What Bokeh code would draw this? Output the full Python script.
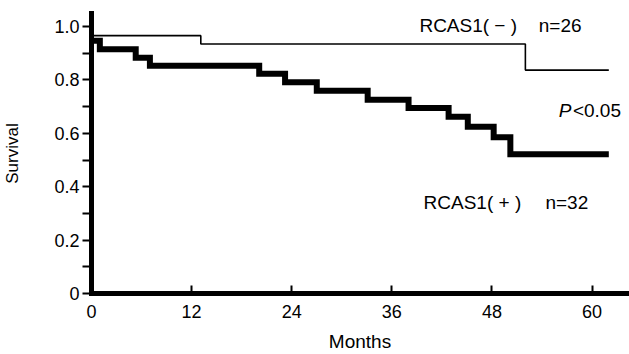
from bokeh.plotting import figure
from bokeh.models import FixedTicker, Label, Range1d
from bokeh.embed import file_html
from bokeh.resources import INLINE

# Kaplan-Meier step data (months, survival)
neg_months = [0, 13.1, 52.0, 62.0]
neg_surv = [0.966, 0.935, 0.837, 0.837]

pos_months = [0, 1.0, 5.3, 7.0, 20.1, 23.2, 27.0, 33.1, 38.0, 42.8, 45.1, 48.2, 50.2, 62.0]
pos_surv = [0.947, 0.915, 0.883, 0.853, 0.823, 0.791, 0.760, 0.726, 0.695, 0.662, 0.625, 0.585, 0.522, 0.522]

x_ticks = [0, 12, 24, 36, 48, 60]
y_ticks = [0, 0.2, 0.4, 0.6, 0.8, 1.0]
y_minor = [0.1, 0.3, 0.5, 0.7, 0.9]
y_labels = ["0", "0.2", "0.4", "0.6", "0.8", "1.0"]

FONT = "Liberation Sans"

p = figure(width=629, height=354, output_backend="svg", toolbar_location=None,
           x_range=Range1d(0, 64.36), y_range=Range1d(0, 1.049),
           min_border_left=89, min_border_right=1, min_border_top=13, min_border_bottom=61,
           background_fill_color="white", border_fill_color="white")
p.outline_line_color = None
p.grid.visible = False

p.step(neg_months, neg_surv, mode="after", line_color="black", line_width=1.6)
p.step(pos_months, pos_surv, mode="after", line_color="black", line_width=6, line_join="miter")

# x axis
xa = p.xaxis[0]
xa.ticker = FixedTicker(ticks=x_ticks)
xa.axis_line_width = 5
xa.axis_line_cap = "square"
xa.axis_line_color = "black"
xa.major_tick_in = 8
xa.major_tick_out = 0
xa.major_tick_line_width = 2
xa.major_tick_line_color = "black"
xa.minor_tick_line_color = None
xa.major_label_standoff = 11
xa.major_label_text_font = FONT
xa.major_label_text_font_size = "18px"
xa.major_label_text_color = "black"
xa.axis_label = "Months"
xa.axis_label_text_font = FONT
xa.axis_label_text_font_size = "19px"
xa.axis_label_text_font_style = "normal"
xa.axis_label_text_color = "black"
xa.axis_label_standoff = 10

# y axis
ya = p.yaxis[0]
ya.ticker = FixedTicker(ticks=y_ticks, minor_ticks=y_minor)
ya.major_label_overrides = {t: l for t, l in zip(y_ticks, y_labels)}
ya.axis_line_width = 5
ya.axis_line_cap = "square"
ya.axis_line_color = "black"
ya.major_tick_in = 0
ya.major_tick_out = 9
ya.major_tick_line_width = 2
ya.major_tick_line_color = "black"
ya.minor_tick_in = 0
ya.minor_tick_out = 9
ya.minor_tick_line_width = 2
ya.minor_tick_line_color = "black"
ya.major_label_standoff = 3
ya.major_label_text_font = FONT
ya.major_label_text_font_size = "18px"
ya.major_label_text_color = "black"
ya.axis_label = "Survival"
ya.axis_label_text_font = FONT
ya.axis_label_text_font_size = "17px"
ya.axis_label_text_font_style = "normal"
ya.axis_label_text_color = "black"
ya.axis_label_standoff = 29

def lab(x, y, t, style="normal"):
    p.add_layout(Label(x=x, y=y, text=t, text_font=FONT, text_font_size="19px",
                       text_font_style=style, text_color="black", text_baseline="alphabetic"))

lab(39.3, 1.004, "RCAS1( − )")
lab(53.6, 1.004, "n=26")
lab(56.0, 0.685, "P", "italic")
lab(57.7, 0.685, "<0.05")
lab(39.8, 0.342, "RCAS1( + )")
lab(54.4, 0.342, "n=32")

open("out.html", "w").write(file_html(p, INLINE))
